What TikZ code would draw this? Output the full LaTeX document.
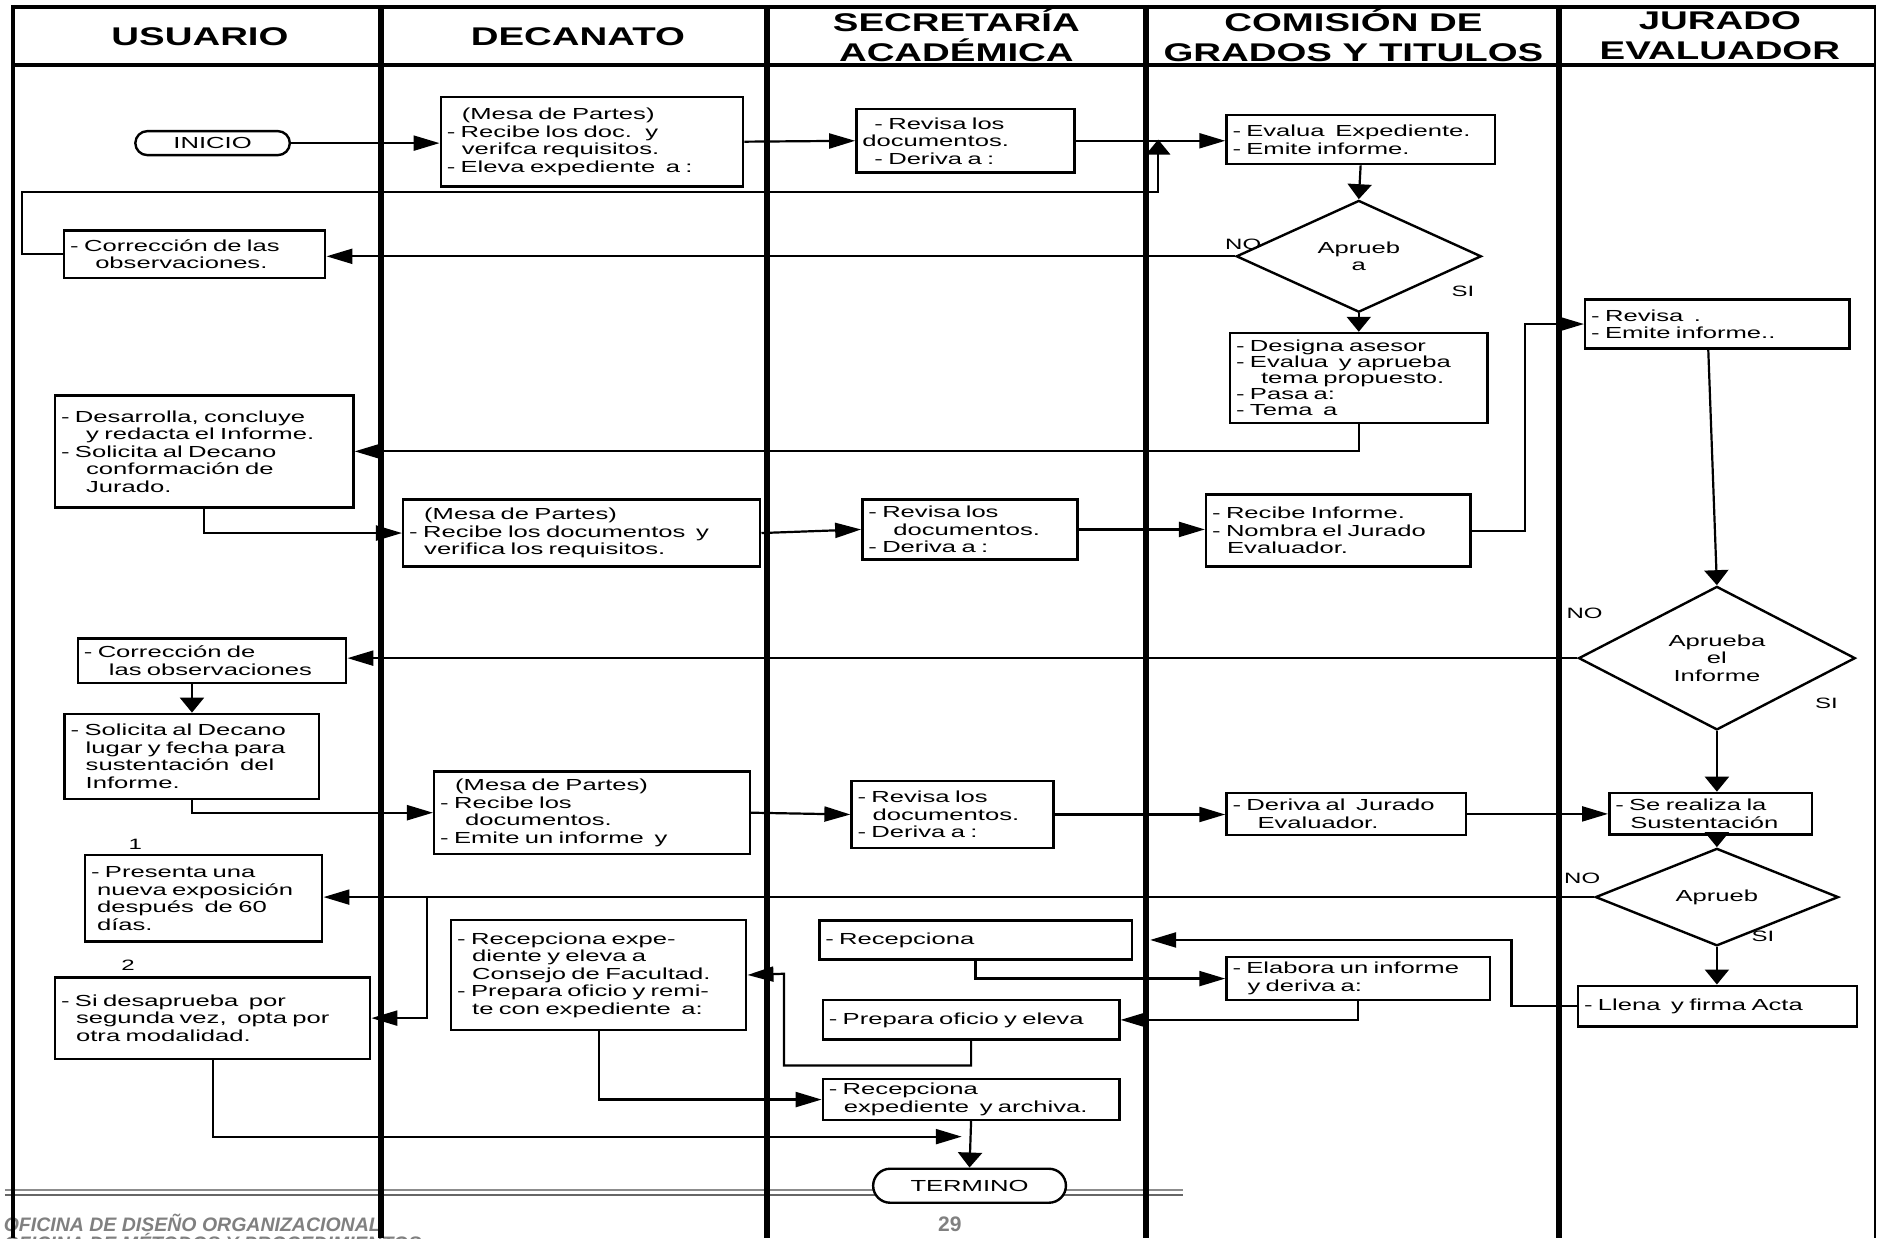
\documentclass[tikz,border=0pt]{standalone}
\usepackage{fontspec}
\setmainfont{Liberation Sans}
\newfontfamily\bodyfont{Liberation Sans}[FakeStretch=1.6]
\newfontfamily\headfont{Liberation Sans}[FakeStretch=1.5]
\usetikzlibrary{arrows.meta,shapes.geometric,shapes.misc,calc}

% indentation of continuation lines inside the process boxes
\newcommand\ind{\hspace*{15pt}}
\newcommand\iind{\hspace*{25pt}}

\tikzset{
  procbox/.style={draw,line width=2.5pt,fill=white,inner xsep=6pt,inner ysep=1pt,
    align=left,font=\bodyfont\fontsize{16}{17.5}\selectfont},
  decision/.style={diamond,draw,line width=2.4pt,fill=white,inner sep=0pt,align=center,
    font=\bodyfont\fontsize{16}{17.5}\selectfont},
  terminal/.style={rounded rectangle,draw,line width=2.4pt,fill=white,inner sep=0pt,
    font=\bodyfont\fontsize{16}{17.5}\selectfont},
  lanehead/.style={align=center,inner sep=0pt,font=\headfont\bfseries\fontsize{25.6}{30}\selectfont},
  tag/.style={inner sep=0pt,font=\bodyfont\fontsize{15}{16}\selectfont},
  flow/.style={line width=2.2pt},
  harr/.style={flow,-{Triangle[length=26pt,width=15pt]}},
  varr/.style={flow,-{Triangle[length=15pt,width=24pt]}},
  divider/.style={line width=6pt},
  footer/.style={text=black!50,inner sep=0pt,anchor=west,
    font=\bfseries\itshape\fontsize{19.5}{22}\selectfont},
}

% process box given by its corners: [options]{name}{x1}{y1}{x2}{y2}{text}
\newcommand\procnode[7][]{%
  \pgfmathsetmacro\pbW{(#5-#3)*1.1977}%
  \pgfmathsetmacro\pbH{(#6-#4)*1.1977}%
  \pgfmathsetmacro\pbT{\pbW-12}%
  \node[procbox,anchor=north west,minimum width=\pbW pt,minimum height=\pbH pt,
        text width=\pbT pt,#1] (#2) at (#3,#4) {#7};}

\begin{document}
\begin{tikzpicture}[x=1.1977pt,y=-1.1977pt]
\path[use as bounding box,fill=white] (0,0) rectangle (1568,1034);

\begin{scope}
\clip (0,0) rectangle (1568,1034);
% page footer
\draw[black!45,line width=2.4pt] (4,993.5) -- (988,993.5);
\draw[black!60,line width=2.4pt] (4,997.8) -- (988,997.8);
\node[footer] (ofi1) at (3,1021) {OFICINA DE DISEÑO ORGANIZACIONAL};
\node[footer] (ofi2) at (3,1037) {OFICINA DE MÉTODOS Y PROCEDIMIENTOS};
\node[text=black!50,inner sep=0pt,font=\bfseries\fontsize{21}{24}\selectfont] (pg) at (793,1022) {29};
% swimlane frame
\draw[line width=4pt] (9.5,6) -- (1566.5,6);
\draw[line width=4pt] (9.5,54) -- (1566.5,54);
\draw[line width=3.5pt] (11,4) -- (11,1034);
\draw[line width=2.5pt] (1565.5,4) -- (1565.5,1034);
\foreach \lx in {318,640.5,956.5,1301.5} \draw[divider] (\lx,4) -- (\lx,1034);
\end{scope}

% lane titles
\node[lanehead] (hu) at (167,30.5) {USUARIO};
\node[lanehead] (hd) at (482.5,30.5) {DECANATO};
\node[lanehead] (hs) at (798.5,29.5) {SECRETARÍA\\ACADÉMICA};
\node[lanehead] (hc) at (1130,29.5) {COMISIÓN DE\\GRADOS Y TITULOS};
\node[lanehead] (hj) at (1436,29.5) {JURADO\\EVALUADOR};

% first round: registration of the project
\node[terminal,minimum width=154.5pt,minimum height=24pt] (ini) at (177.5,119.5) {INICIO};
\procnode{m1}{367}{80}{619.5}{154.5}{\ind(Mesa de Partes)\\- Recibe los doc. \ y\\\ind verifca requisitos.\\- Eleva expediente \ a :}
\procnode[inner xsep=3pt]{r1}{714}{90}{896}{143}{\hspace*{12pt}- Revisa los\\documentos.\\\hspace*{12pt}- Deriva a :}
\procnode{ev}{1023}{95}{1247}{136}{- Evalua \ Expediente.\\- Emite informe.}
\node[decision,minimum width=245pt,minimum height=83.8pt] (d1) at (1134.5,214) {Aprueb\\a};
\procnode{c1}{52.6}{191.5}{270.5}{231}{- Corrección de las\\\iind observaciones.}
\procnode[font=\bodyfont\fontsize{16}{16}\selectfont]{ds}{1026}{277}{1241}{352}{- Designa asesor\\- Evalua \ y aprueba\\\iind tema propuesto.\\- Pasa a:\\- Tema \ a}

% second round: report and jury
\procnode{jr}{1322.5}{249}{1543}{290}{- Revisa \ .\\- Emite informe..}
\procnode{de}{45}{329}{294}{422.6}{- Desarrolla, concluye\\\iind y redacta el Informe.\\- Solicita al Decano\\\iind conformación de\\\iind Jurado.}
\procnode{m2}{335.6}{416}{633.7}{472}{\ind(Mesa de Partes)\\- Recibe los documentos \ y\\\ind verifica los requisitos.}
\procnode{r2}{719}{416}{898.6}{466}{- Revisa los\\\iind documentos.\\- Deriva a :}
\procnode{ri}{1006}{412}{1226.5}{472}{- Recibe Informe.\\- Nombra el Jurado\\\ind Evaluador.}
\node[decision,minimum width=276.7pt,minimum height=120.4pt] (d2) at (1433.5,549.5) {Aprueba\\el\\Informe};
\procnode{c2}{64}{532}{288}{569}{- Corrección de\\\iind las observaciones}
\procnode{so}{53}{595}{265.5}{666}{- Solicita al Decano\\\ind lugar y fecha para\\\ind sustentación \ del\\\ind Informe.}

% third round: defence
\procnode{m3}{361.5}{643}{625}{712}{\ind(Mesa de Partes)\\- Recibe los\\\iind documentos.\\- Emite un informe \ y}
\procnode{r3}{710}{651}{878.5}{707}{- Revisa los\\\ind documentos.\\- Deriva a :}
\procnode{dj}{1023}{661}{1223}{696}{- Deriva al \ Jurado\\\iind Evaluador.}
\procnode{su}{1342.6}{661}{1512}{695.5}{- Se realiza la\\\ind Sustentación}
\node[decision,minimum width=243pt,minimum height=77.3pt] (d3) at (1433.5,749) {Aprueb};
\procnode{pr}{70}{713}{268}{785}{- Presenta una\\\hspace*{6pt}nueva exposición\\\hspace*{6pt}después \ de 60\\\hspace*{6pt}días.}
\procnode{sd}{45}{815}{308}{883}{- Si desaprueba \ por\\\ind segunda vez, \ opta por\\\ind otra modalidad.}
\procnode{rx}{375.7}{767}{622}{859}{- Recepciona expe-\\\ind diente y eleva a\\\ind Consejo de Facultad.\\- Prepara oficio y remi-\\\ind te con expediente \ a:}
\procnode{rs}{683}{767.5}{944}{800}{- Recepciona}
\procnode{pp}{686}{834}{933.5}{867}{- Prepara oficio y eleva}
\procnode{ra}{686}{900}{933.5}{934}{- Recepciona\\\ind expediente \ y archiva.}
\procnode{el}{1023}{798}{1243}{834}{- Elabora un informe\\\ind y deriva a:}
\procnode{ll}{1316.5}{822}{1549.6}{856}{- Llena \ y firma Acta}
\node[terminal,minimum width=192.8pt,minimum height=34pt] (ter) at (809.5,990) {TERMINO};

% decision outcomes and notes
\node[tag] (no1) at (1038,204) {NO};
\node[tag] (si1) at (1221.5,243) {SI};
\node[tag] (no2) at (1323,512) {NO};
\node[tag] (si2) at (1525,587) {SI};
\node[tag] (no3) at (1321,733) {NO};
\node[tag] (si3) at (1472,782) {SI};
\node[tag] (n1) at (113,705) {1};
\node[tag] (n2) at (107,806) {2};

% connectors
\draw[harr] (ini.east) -- (ini.east -| m1.west);
\draw[harr] (m1.east) -- (r1.west);
\draw[harr] (r1.east) -- (r1.east -| ev.west);
\coordinate (back) at (967,116.5);
\draw[varr] (c1.west) -| (18.5,160) -| (back);
\draw[varr] (ev.south) -- (d1.north);
\draw[harr] (d1.west) -- (d1.west -| c1.east);
\draw[varr] (d1.south) -- (d1.south |- ds.north);
\draw[harr] (ds.south) |- (de.east);
\draw[harr] (de.south) |- (m2.west);
\draw[harr] (m2.east) -- (r2.west);
\draw[harr] (r2.east) -- (r2.east -| ri.west);
\draw[harr] (ri.east) -- ++(45,0) |- (jr.west);
\draw[varr] ($(jr.south)+(-7.5,0)$) -- (d2.north);
\draw[harr] (d2.west) -- (d2.west -| c2.east);
\draw[varr] (so.north |- c2.south) -- (so.north);
\draw[harr] (so.south) |- (m3.west);
\draw[harr] (m3.east) -- (r3.west);
\draw[harr] (r3.east) -- (r3.east -| dj.west);
\draw[harr] (dj.east) -- (dj.east -| su.west);
\draw[varr] (d2.south) -- (d2.south |- su.north);
\draw[varr] (d2.south |- su.south) -- (d3.north);
\draw[harr] (d3.west) -- (d3.west -| pr.east);
\coordinate (fork) at (356.6,749);
\draw[harr] (fork) |- (sd.east);
\draw[varr] (d3.south) -- (d3.south |- ll.north);
\draw[harr,shorten >=17pt] (ll.west) -- ++(-54.5,0) |- (rs.east);
\draw[harr] (rs.south) |- (el.west);
\draw[harr] (el.south) |- (pp.east);
\draw[harr] (pp.south) -- ++(0,20.6) -| (654.6,813) -- (rx.east);
\draw[harr] (rx.south) |- (ra.west);
\coordinate (join) at (803,949);
\draw[harr] (sd.south) |- (join);
\draw[varr] (ra.south) -- (ter.north);
\end{tikzpicture}
\end{document}
